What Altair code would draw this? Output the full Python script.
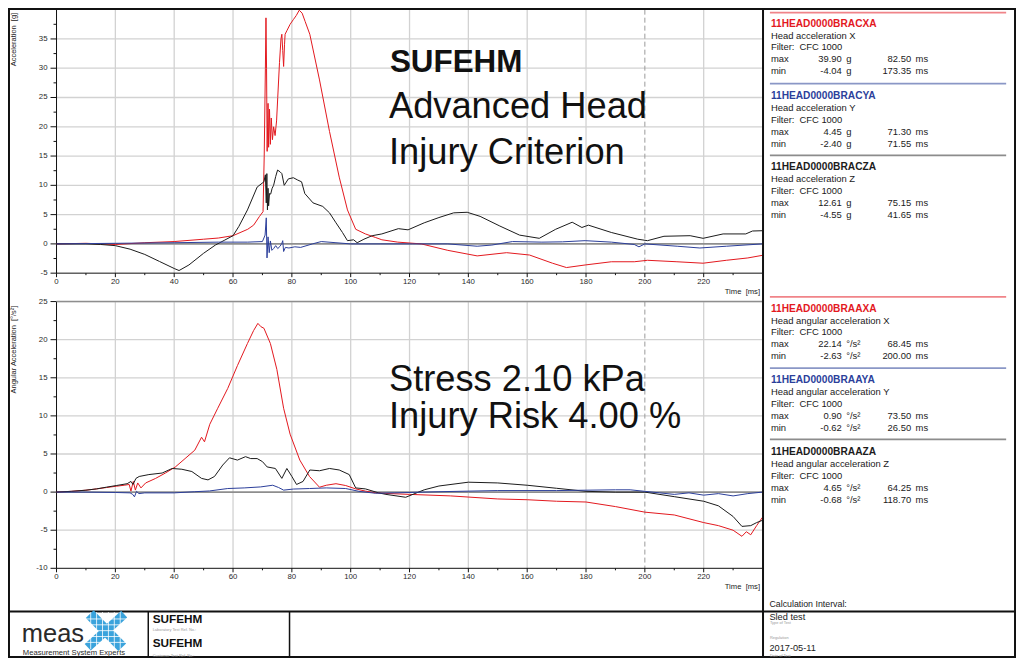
import altair as alt
import pandas as pd

# ---------------- data ----------------
T_DOMAIN = [0, 240]
X_MAJOR = [0, 20, 40, 60, 80, 100, 120, 140, 160, 180, 200, 220]
X_MINOR = [10, 30, 50, 70, 90, 110, 130, 150, 170, 190, 210, 230]
CALC_END = [200]

ACC_DOMAIN = [-5, 40]
ACC_MAJOR = [-5, 0, 5, 10, 15, 20, 25, 30, 35]
ACC_MINOR = [-2.5, 2.5, 7.5, 12.5, 17.5, 22.5, 27.5, 32.5, 37.5]

ANG_DOMAIN = [-10, 25]
ANG_MAJOR = [-10, -5, 0, 5, 10, 15, 20, 25]
ANG_MINOR = [-7.5, -2.5, 2.5, 7.5, 12.5, 17.5, 22.5]

ZERO = [0]

# (time ms, value)
acc_x = [(0,0),(10,0.1),(20,-0.1),(30,0.2),(40,0.4),(50,0.8),(55,1.0),(60,1.4),(65,2.5),(67,3.2),(69,4.7),
         (70.2,5.5),(70.6,15),(71.0,30),(71.2,38.6),(71.4,30),(71.6,15.8),(71.9,24),(72.1,16.5),(72.4,23),
         (72.7,17),(73.0,21.5),(73.4,17.8),(73.8,20),(74.3,18.5),(74.8,21),(75.2,25),(75.8,31),(76.3,35),
         (76.6,35.8),(76.9,33),(77.2,30.3),(77.5,34),(77.7,35.8),(78.3,36.4),(79.4,37.5),(80.5,38.3),(81.5,39.0),
         (82.5,39.9),(83.5,39.4),(84.5,38.0),(86.1,35.8),(89.4,28),(92.8,19.2),(96.1,11.4),(98.9,5.8),(101.7,2.5),
         (105,1.7),(108.4,1.1),(110.6,0.7),(116,0.3),(124,0),(133,-1.1),(143,-2.05),(153,-1.5),(160.8,-1.9),
         (168.6,-3.3),(173.35,-4.04),(179.7,-3.6),(188.6,-3.05),(196.4,-3.05),(200.9,-2.8),(210.9,-3.05),
         (219.8,-3.3),(227.7,-2.8),(235,-2.4),(240,-1.95)]
acc_y = [(0,0),(20,0.1),(40,0.2),(55,0.3),(65,0.3),(70,0.4),(70.9,1.5),(71.3,4.45),(71.55,-2.4),(71.9,1.2),
         (72.3,-1.5),(72.7,0.5),(73.2,-1.1),(73.8,-0.8),(74.5,-0.3),(75.2,-0.8),(76,-0.4),(76.6,0.1),(76.9,0.55),
         (77.2,-1.3),(77.8,-0.6),(79,-0.7),(81,-0.5),(83,-0.6),(87,0),(90,0.4),(95,0.2),(100,0),(110,0),(121,0),
         (133,0),(143,-0.4),(148,-0.2),(155,0.4),(165,0.3),(172,0.35),(179.7,0.55),(188.6,0.3),(196.4,-0.1),
         (198,-0.5),(200,0),(211,-0.4),(218.7,-0.7),(227.7,-0.4),(240,0)]
acc_z = [(0,0),(10,0),(15,-0.1),(20,-0.3),(25,-0.9),(30,-1.8),(35,-3.0),(40,-4.2),(41.65,-4.55),(45,-3.6),
         (50,-1.6),(54,-0.2),(57,0.6),(60,1.4),(62,3.0),(64.9,5.8),(68.2,9.7),(70.5,10.6),(71.0,11.8),(71.3,7.0),
         (71.5,12.0),(71.7,5.8),(71.9,9.5),(72.1,6.5),(72.4,8.6),(72.8,8.5),(73.3,9.5),(73.8,10.0),(74.5,11.5),
         (75.15,12.61),(76.0,12.3),(76.6,12.0),(77.4,10.0),(78.8,11.1),(80.5,11.3),(82.0,10.9),(83.3,10.6),
         (84.4,8.6),(87.2,7.0),(90.5,6.4),(92.8,5.3),(95,3.6),(97.2,1.95),(98.9,0.55),(101,0.7),(102.2,0.2),
         (104.5,0.8),(107.3,1.4),(110.6,1.7),(116.2,2.6),(119.5,2.4),(125,3.6),(130,4.5),(135,5.3),(139.6,5.4),
         (144,4.7),(150.7,3.05),(157.4,1.5),(164.1,0.95),(169.7,2.5),(175.3,3.7),(178.6,2.8),(180.8,3.2),
         (188.6,1.95),(197.6,0.8),(200.9,0.55),(206.5,1.3),(215.4,1.4),(219.8,0.95),(226.6,1.7),(234.3,1.7),
         (236.6,2.2),(240,2.25)]

ang_x = [(0,0),(5,0.1),(10,0.25),(13.6,0.42),(17,0.6),(20.3,0.77),(23,0.9),(24.7,1.0),(25.3,0.13),(26.1,1.4),
         (26.8,0.26),(27.6,1.2),(28.7,0.55),(30.3,1.2),(33.7,1.8),(37,2.5),(40.4,3.3),(43.7,4.4),(47,5.5),
         (49.3,7.2),(50.3,6.6),(52.1,8.9),(54.8,11),(58.2,13.6),(61.5,16.6),(64.9,19.5),(67,21.2),(68.45,22.14),
         (69.5,21.7),(70.5,21.5),(72.7,19.5),(74.9,16.1),(77.2,11),(79.4,7.6),(82.7,4.2),(86,2.05),(89.4,0.64),
         (91.7,0.9),(95,1.1),(98.3,0.86),(101.7,0.42),(105,0.13),(108.4,-0.1),(111.7,-0.17),(120,-0.3),
         (134,-0.5),(150,-0.9),(160,-1.0),(170,-1.2),(180,-1.3),(190,-1.9),(200,-2.63),(210,-3.0),(220,-4.0),
         (225,-4.4),(230,-5.0),(233,-5.8),(234.5,-5.2),(236,-5.6),(238,-4.4),(240,-3.3)]
ang_y = [(0,0),(10,0),(20,-0.05),(25,-0.1),(25.9,-0.3),(26.5,-0.62),(27.2,0.1),(28,-0.2),(30,-0.1),(40,-0.1),
         (47,0.05),(52,0.15),(58.2,0.47),(63.8,0.55),(69.4,0.68),(73.5,0.9),(75.5,0.6),(77.2,0.26),(80.5,0.4),
         (86,0.47),(91.7,0.55),(98.3,0.47),(102.8,0.1),(108.4,-0.15),(115,-0.1),(130,0.05),(150,0.2),(170,0.2),
         (190,0.3),(195,0.3),(200,0.1),(205,-0.1),(210,-0.3),(215,-0.1),(220,-0.4),(225,-0.2),(230,-0.5),
         (235,-0.2),(240,0)]
ang_z = [(0,0),(5,0.1),(10,0.25),(13.6,0.42),(17,0.65),(20.3,0.86),(24,1.1),(25.3,1.4),(26,1.0),(27,1.8),
         (28.1,2.05),(31.4,2.3),(35.9,2.5),(39.3,3.1),(42.6,3.0),(46,2.7),(49.3,1.8),(51.5,1.6),(53.7,2.05),
         (56.5,3.55),(58.8,4.5),(61.5,4.2),(64.25,4.65),(66,4.4),(68.2,4.4),(70,4.0),(71.6,3.3),(74.4,3.1),
         (76.6,1.8),(78.3,3.1),(80,2.05),(81.6,1.0),(83.8,1.4),(86.1,2.9),(89.4,2.8),(92.8,3.1),(96.1,2.9),
         (99.5,2.3),(101.7,0.55),(105,0.42),(109.5,-0.1),(112,-0.3),(118.7,-0.68),(125,0.3),(130,0.8),
         (140,1.3),(150,1.2),(160,0.9),(170,0.5),(180,0.1),(190,0),(200,0),(210,-0.6),(220,-1.2),(225,-1.8),
         (230,-3.2),(233,-4.5),(236,-4.4),(238,-4.0),(240,-3.7)]

CH_NAMES = ["11HEAD0000BRACXA", "11HEAD0000BRACYA", "11HEAD0000BRACZA",
            "11HEAD0000BRAAXA", "11HEAD0000BRAAYA", "11HEAD0000BRAAZA"]
CH_DESC = ["Head acceleration X", "Head acceleration Y", "Head acceleration Z",
           "Head angular acceleration X", "Head angular acceleration Y", "Head angular acceleration Z"]
CH_FILTER = ["CFC 1000"] * 6
CH_UNIT = ["g", "g", "g", "°/s²", "°/s²", "°/s²"]
MAX_VAL = ["39.90", "4.45", "12.61", "22.14", "0.90", "4.65"]
MAX_T = ["82.50", "71.30", "75.15", "68.45", "73.50", "64.25"]
MIN_VAL = ["-4.04", "-2.40", "-4.55", "-2.63", "-0.62", "-0.68"]
MIN_T = ["173.35", "71.55", "41.65", "200.00", "26.50", "118.70"]

BIG_TITLE = ["SUFEHM", "Advanced Head", "Injury Criterion"]
RESULTS = ["Stress 2.10 kPa", "Injury Risk 4.00 %"]

# ---------------- layout / style ----------------
W, H = 1008, 650
SX, SY = W / 1024, H / 666
FS = (SX + SY) / 2


def X(p):
    return round(p * SX, 2)


def Y(p):
    return round(p * SY, 2)


FONT = "Liberation Sans"
RED, BLUE, BLACK = "#e3191f", "#2c3f9b", "#1c1c1c"
SEP_COLORS = ["#f08489", "#8a97c6", "#8c8c8c"]
GRID = "#d2d2d2"
AXIS = "#111111"
PX0, PX1 = 49.3, 766.5
ONE = pd.DataFrame({"k": [0]})


def df(pairs):
    return pd.DataFrame({"t": [p[0] for p in pairs], "v": [p[1] for p in pairs]})


def txt(s, x, y, size=9.7, color="#1a1a1a", bold=False, align="left", baseline="middle", angle=None,
        font=FONT):
    kw = dict(text=s, fontSize=round(size * FS, 2), color=color, font=font, align=align, baseline=baseline,
              fontWeight="bold" if bold else "normal")
    if angle is not None:
        kw["angle"] = angle
    return alt.Chart(ONE).mark_text(**kw).encode(x=alt.value(X(x)), y=alt.value(Y(y)))


def hline(x1, x2, y, color, w=1, dash=None):
    kw = dict(color=color, strokeWidth=w)
    if dash:
        kw["strokeDash"] = dash
    return alt.Chart(ONE).mark_rule(**kw).encode(x=alt.value(X(x1)), x2=alt.value(X(x2)), y=alt.value(Y(y)))


def vline(x, y1, y2, color, w=1):
    return alt.Chart(ONE).mark_rule(color=color, strokeWidth=w).encode(
        x=alt.value(X(x)), y=alt.value(Y(y1)), y2=alt.value(Y(y2)))


def seg(x1, y1, x2, y2, color, w):
    return alt.Chart(ONE).mark_rule(color=color, strokeWidth=w, strokeCap="butt").encode(
        x=alt.value(X(x1)), y=alt.value(Y(y1)), x2=alt.value(X(x2)), y2=alt.value(Y(y2)))


def make_plot(series, ydomain, ymajor, yminor, top_px, bot_px):
    xs = alt.Scale(domain=T_DOMAIN, range=[X(PX0), X(PX1)], nice=False, zero=False)
    ys = alt.Scale(domain=ydomain, range=[Y(bot_px), Y(top_px)], nice=False, zero=False)
    XF = alt.X("t:Q", scale=xs, axis=None)
    YF = alt.Y("v:Q", scale=ys, axis=None)
    xb = Y(bot_px)
    yl = X(PX0)
    ytop = Y(top_px)
    xticks = pd.DataFrame({"t": X_MAJOR, "lab": [str(v) for v in X_MAJOR]})
    yticks = pd.DataFrame({"v": ymajor, "lab": [str(v) for v in ymajor]})
    layers = []
    # grid: full-length light rules at the major ticks (skipping the axis and the dashed 200 ms line)
    layers.append(alt.Chart(xticks).transform_filter("datum.t > 0 && datum.t != 200").mark_rule(
        color=GRID, strokeWidth=1.3).encode(x=XF, y=alt.value(ytop), y2=alt.value(xb)))
    layers.append(alt.Chart(yticks).transform_filter("datum.v != 0 && datum.v > %s" % ydomain[0]).mark_rule(
        color=GRID, strokeWidth=1.3).encode(y=YF, x=alt.value(yl), x2=alt.value(X(PX1))))
    # calculation-interval end (dashed)
    layers.append(alt.Chart(pd.DataFrame({"t": CALC_END})).mark_rule(
        color="#9a9a9a", strokeWidth=1, strokeDash=[5, 3]).encode(
        x=XF, y=alt.value(ytop), y2=alt.value(xb)))
    layers.append(alt.Chart(pd.DataFrame({"v": ZERO})).mark_rule(color="#8e8e8e", strokeWidth=1.6).encode(
        y=YF, x=alt.value(yl), x2=alt.value(X(PX1))))
    # axis lines
    layers.append(alt.Chart(ONE).mark_rule(color=AXIS, strokeWidth=1).encode(
        x=alt.value(yl), x2=alt.value(X(PX1)), y=alt.value(xb)))
    layers.append(alt.Chart(ONE).mark_rule(color=AXIS, strokeWidth=1).encode(
        x=alt.value(yl), y=alt.value(ytop), y2=alt.value(xb)))
    # ticks
    layers.append(alt.Chart(xticks).mark_rule(color=AXIS, strokeWidth=1).encode(
        x=XF, y=alt.value(xb), y2=alt.value(xb + 4)))
    layers.append(alt.Chart(pd.DataFrame({"t": X_MINOR})).mark_rule(color=AXIS, strokeWidth=1).encode(
        x=XF, y=alt.value(xb), y2=alt.value(xb + 2)))
    layers.append(alt.Chart(yticks).mark_rule(color=AXIS, strokeWidth=1).encode(
        y=YF, x=alt.value(yl - 6), x2=alt.value(yl)))
    layers.append(alt.Chart(pd.DataFrame({"v": yminor})).mark_rule(color=AXIS, strokeWidth=1).encode(
        y=YF, x=alt.value(yl - 3), x2=alt.value(yl)))
    # tick labels
    layers.append(alt.Chart(xticks).mark_text(
        font=FONT, fontSize=round(8 * FS, 2), color="#2a2a2a", baseline="top", align="center").encode(
        x=XF, y=alt.value(xb + 4.5), text="lab:N"))
    layers.append(alt.Chart(yticks).mark_text(
        font=FONT, fontSize=round(8 * FS, 2), color="#2a2a2a", baseline="middle", align="right").encode(
        y=YF, x=alt.value(yl - 9), text="lab:N"))
    for pairs, color in series:
        layers.append(alt.Chart(df(pairs)).mark_line(color=color, strokeWidth=1).encode(x=XF, y=YF))
    return alt.layer(*layers)


top = make_plot([(acc_x, RED), (acc_z, BLACK), (acc_y, BLUE)], ACC_DOMAIN, ACC_MAJOR, ACC_MINOR, 1.7, 271.7)
bottom = make_plot([(ang_x, RED), (ang_z, BLACK), (ang_y, BLUE)], ANG_DOMAIN, ANG_MAJOR, ANG_MINOR, 300.8, 574.1)

deco = []
# plot decorations
deco.append(hline(PX0, PX1, 300.8, "#8e8e8e", 1.6))
deco.append(txt("Time\u00a0 [ms]", 764, 291, 7.8, "#222", align="right"))
deco.append(txt("Time\u00a0 [ms]", 764, 593, 7.8, "#222", align="right"))
deco.append(txt("Acceleration\u00a0 [g]", 6.5, 5, 7.6, "#222", align="right", angle=270))
deco.append(txt("Angular Acceleration\u00a0 [°/s²]", 6.5, 305, 7.6, "#222", align="right", angle=270))

# big annotations
deco.append(txt(BIG_TITLE[0], 388, 66, 32, "#111", bold=True, baseline="alphabetic"))
deco.append(txt(BIG_TITLE[1], 387, 113, 37, "#111", baseline="alphabetic"))
deco.append(txt(BIG_TITLE[2], 387, 160, 37, "#111", baseline="alphabetic"))
deco.append(txt(RESULTS[0], 387, 392, 37, "#111", baseline="alphabetic"))
deco.append(txt(RESULTS[1], 387, 430, 37, "#111", baseline="alphabetic"))

# right panel channel blocks
BLOCK_Y = [16, 90, 163, 308, 381.5, 455]
SEP_Y = [4.7, 77.5, 151, 296, 369, 442]
TITLE_COLORS = [RED, BLUE, BLACK, RED, BLUE, BLACK]
for i in range(6):
    deco.append(hline(774, 1014, SEP_Y[i], SEP_COLORS[i % 3], 1.6))
    y0 = BLOCK_Y[i]
    deco.append(txt(CH_NAMES[i], 775, y0, 10.4, TITLE_COLORS[i], bold=True))
    deco.append(txt(CH_DESC[i], 775, y0 + 12.2, 9.6))
    deco.append(txt("Filter:", 775, y0 + 24.4, 9.6))
    deco.append(txt(CH_FILTER[i], 804, y0 + 24.4, 9.6))
    deco.append(txt("max", 775, y0 + 36.7, 9.6))
    deco.append(txt(MAX_VAL[i], 847, y0 + 36.7, 9.6, align="right"))
    deco.append(txt(CH_UNIT[i], 851.5, y0 + 36.7, 9.6))
    deco.append(txt(MAX_T[i], 917.5, y0 + 36.7, 9.6, align="right"))
    deco.append(txt("ms", 922, y0 + 36.7, 9.6))
    deco.append(txt("min", 775, y0 + 48.9, 9.6))
    deco.append(txt(MIN_VAL[i], 847, y0 + 48.9, 9.6, align="right"))
    deco.append(txt(CH_UNIT[i], 851.5, y0 + 48.9, 9.6))
    deco.append(txt(MIN_T[i], 917.5, y0 + 48.9, 9.6, align="right"))
    deco.append(txt("ms", 922, y0 + 48.9, 9.6))

# frame and footer
deco.append(alt.Chart(ONE).mark_rect(fill="transparent", stroke="#111", strokeWidth=2).encode(
    x=alt.value(X(1)), x2=alt.value(X(1023)), y=alt.value(Y(1)), y2=alt.value(Y(665))))
deco.append(vline(767, 0, 666, "#111", 2))
deco.append(hline(0, 1024, 618.3, "#111", 2))
deco.append(vline(142.5, 618, 666, "#111", 1.5))
deco.append(vline(286, 618, 666, "#111", 1.5))

deco.append(txt("Calculation Interval:", 773.5, 610.5, 9))
deco.append(txt("Sled test", 773.5, 623.5, 9.4))
deco.append(txt("Type of Test", 774, 630.5, 4, "#9a9a9a"))
deco.append(txt("Regulation", 774, 646, 4, "#9a9a9a"))
deco.append(txt("2017-05-11", 773.5, 656, 9.4))
deco.append(txt("Date of Test", 774, 663.5, 4, "#9a9a9a"))

deco.append(txt("SUFEHM", 147, 626, 12, "#111", bold=True))
deco.append(txt("Laboratory Test Ref. No.:", 147, 637.5, 4, "#9a9a9a"))
deco.append(txt("SUFEHM", 147, 651, 12, "#111", bold=True))
deco.append(txt("Customer Test Ref. No.:", 147, 663.5, 4, "#9a9a9a"))

# logo: stylised blue X with white grid, "meas" and tagline
LOGO_BLUE = "#3aa3dc"
deco.append(seg(83, 621, 116, 655, LOGO_BLUE, 11))
deco.append(seg(118, 621, 81, 655, LOGO_BLUE, 9))
for gx in [84, 90, 96, 102, 108, 114]:
    deco.append(vline(gx, 619, 657, "white", 0.8))
for gy in [626, 632, 638, 644, 650]:
    deco.append(hline(74, 122, gy, "white", 0.8))
deco.append(txt("meas", 14, 650, 26, "#2a2a2a", baseline="alphabetic"))
deco.append(txt("Measurement System Experts", 15, 661, 7.8, "#2a2a2a"))

chart = alt.layer(top, bottom, *deco).resolve_scale(x="independent", y="independent").properties(
    width=W, height=H, autosize=alt.AutoSizeParams(type="none"), padding=0
).configure_view(stroke=None).configure(background="white")

chart.save("out.html", embed_options={"renderer": "svg", "actions": False})
